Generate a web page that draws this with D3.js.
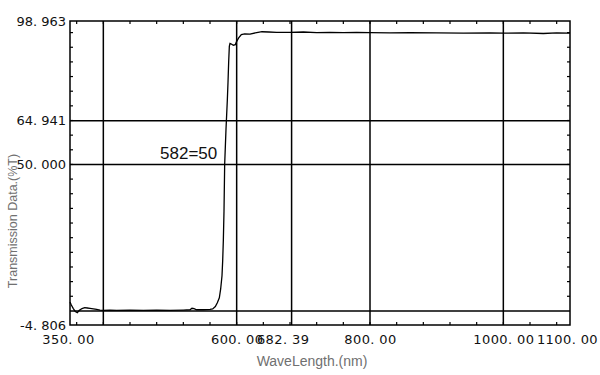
<!DOCTYPE html>
<html><head><meta charset="utf-8">
<script src="https://cdn.jsdelivr.net/npm/d3@7"></script>
<style>body{margin:0;background:#fff}svg{display:block}</style>
</head><body>
<script>
// ---- data ----
const wavelength = [350,352,355,358,361,364,368,372,376,380,385,390,395,400,410,420,440,460,480,500,520,530,533,536,540,550,560,564,568,571,574,576,578,579,580,581,582,583,584,585,586,587,588,589,590,592,595,598,600,603,607,612,620,630,638,648,660,680,700,720,740,760,780,800,830,860,900,940,980,1000,1030,1060,1080,1100];
const transmission = [3.0,2.0,0.8,-0.2,-0.6,0.2,0.8,1.1,1.0,0.9,0.7,0.5,0.3,0.2,0.3,0.2,0.3,0.2,0.3,0.2,0.3,0.4,0.9,0.8,0.4,0.4,0.5,0.7,1.5,2.8,4.5,7.5,12,17,24,34,50,56,62,67,72,78,85,90.3,91.3,91.1,90.7,90.9,92,93.2,94.3,94.6,94.5,95.0,95.3,95.2,95.1,95.1,95.2,95.0,95.1,95.0,95.1,95.0,94.9,95.0,94.9,94.8,94.9,94.8,94.9,94.7,94.9,94.8];
const xTickValues = [350, 600, 682.39, 800, 1000, 1100];
const xTickLabels = ["350. 00", "600. 00", "682. 39", "800. 00", "1000. 00", "1100. 00"];
const xGridValues = [400, 600, 682.39, 800, 1000];
const yTickValues = [98.963, 64.941, 50.000, -4.806];
const yTickLabels = ["98. 963", "64. 941", "50. 000", "-4. 806"];
const yGridValues = [64.941, 50, 0];
const annotation = {text: "582=50", wl: 582, value: 50};
const xTitle = "WaveLength.(nm)";
const yTitle = "Transmission Data.(%T)";

// ---- layout ----
const W = 600, H = 375;
const L = 70, R = 570, T = 21, B = 325;
const svg = d3.select("body").append("svg").attr("width", W).attr("height", H);
const x = d3.scaleLinear().domain([350, 1100]).range([L, R]);
const y = d3.scaleLinear().domain([-4.806, 98.963]).range([B, T]);

// minor ticks
const xMinor = d3.range(360, 1100, 40);
const yMinor = d3.range(5, 98, 5);
const tk = svg.append("g").attr("stroke", "#000").attr("stroke-width", 1.2);
xMinor.forEach(v => {
  tk.append("line").attr("x1", x(v)).attr("x2", x(v)).attr("y1", B).attr("y2", B - 3);
  tk.append("line").attr("x1", x(v)).attr("x2", x(v)).attr("y1", T).attr("y2", T + 3);
});
yMinor.forEach(v => {
  tk.append("line").attr("x1", L).attr("x2", L + 3).attr("y1", y(v)).attr("y2", y(v));
  tk.append("line").attr("x1", R).attr("x2", R - 3).attr("y1", y(v)).attr("y2", y(v));
});

// grid
const g = svg.append("g").attr("stroke", "#000").attr("stroke-width", 1.5);
xGridValues.forEach(v => g.append("line").attr("x1", x(v)).attr("x2", x(v)).attr("y1", T).attr("y2", B));
yGridValues.forEach(v => g.append("line").attr("x1", L).attr("x2", R).attr("y1", y(v)).attr("y2", y(v)));

// frame
svg.append("rect").attr("x", L).attr("y", T).attr("width", R - L).attr("height", B - T)
  .attr("fill", "none").attr("stroke", "#000").attr("stroke-width", 1.5);

// curve
const pts = wavelength.map((w, i) => [w, transmission[i]]);
svg.append("path").datum(pts)
  .attr("fill", "none").attr("stroke", "#000").attr("stroke-width", 1.3)
  .attr("d", d3.line().x(d => x(d[0])).y(d => y(d[1])));

// axes labels via d3 axes (no lines)
const xAxis = d3.axisBottom(x).tickValues(xTickValues).tickSize(0).tickPadding(0)
  .tickFormat((d, i) => xTickLabels[i]);
const xa = svg.append("g").attr("transform", `translate(0,${B + 10})`).call(xAxis);
xa.select(".domain").remove();
xa.selectAll("text").attr("font-family", "DejaVu Sans").attr("font-size", 13).attr("fill", "#111")
  .attr("letter-spacing", 0.4)
  .attr("dx", d => d === 682.39 ? -9 : (d === 350 ? -2 : (d === 1100 ? -3 : 0)));

const yAxis = d3.axisLeft(y).tickValues(yTickValues).tickSize(0).tickPadding(0)
  .tickFormat((d, i) => yTickLabels[i]);
const ya = svg.append("g").attr("transform", `translate(${L - 4},0)`).call(yAxis);
ya.select(".domain").remove();
ya.selectAll("text").attr("font-family", "DejaVu Sans").attr("font-size", 13).attr("fill", "#111");

// titles
svg.append("text").attr("x", 312).attr("y", 366).attr("text-anchor", "middle")
  .attr("font-family", "Liberation Sans").attr("font-size", 14).attr("fill", "#707070").text(xTitle);
svg.append("text").attr("transform", `translate(17,221) rotate(-90)`).attr("text-anchor", "middle")
  .attr("font-family", "Liberation Sans").attr("font-size", 12.5).attr("fill", "#707070").text(yTitle);

// annotation
svg.append("text").attr("x", x(annotation.wl) - 36).attr("y", y(annotation.value) - 5)
  .attr("text-anchor", "middle").attr("font-family", "Liberation Sans").attr("font-size", 17)
  .attr("fill", "#111").text(annotation.text);
</script>
</body></html>
